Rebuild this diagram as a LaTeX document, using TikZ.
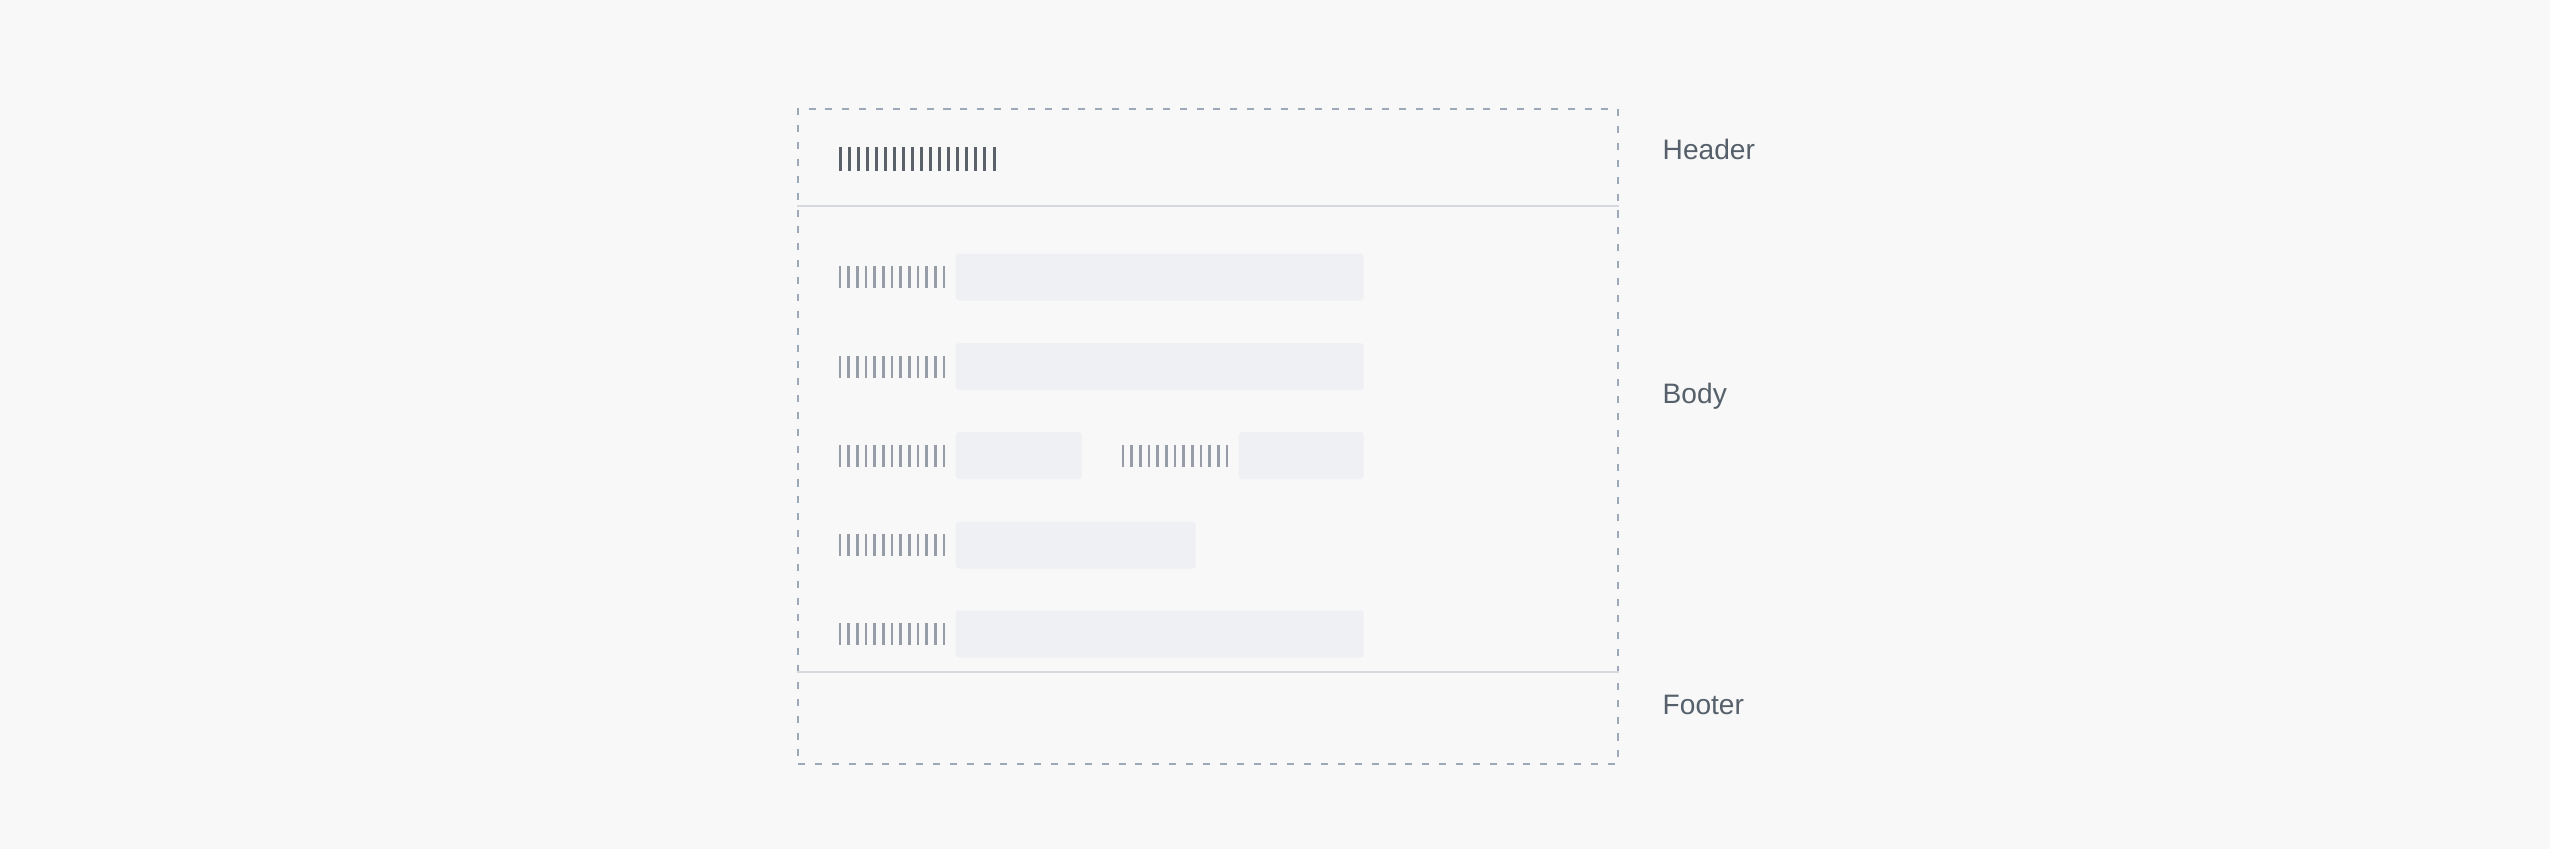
\documentclass[tikz,border=0pt]{standalone}
\usepackage{fontspec}
\setmainfont{Liberation Sans}
\usepackage{tikz}
\usetikzlibrary{positioning}
\definecolor{paper}{HTML}{F8F8F8}
\definecolor{dashgray}{HTML}{9DA9B8}
\definecolor{rulegray}{HTML}{D5D8DD}
\definecolor{fieldgray}{HTML}{EFF0F3}
\definecolor{tickdark}{HTML}{5B6169}
\definecolor{ticklight}{HTML}{979DA6}
\definecolor{labelgray}{HTML}{56606B}
\tikzset{
  frame/.style = {rectangle, draw=dashgray, line width=0.8pt, dash pattern=on 2pt off 2.8pt, minimum width=8.2cm, minimum height=6.55cm, inner sep=0pt},
  field/.style = {rectangle, fill=fieldgray, rounded corners=1pt, minimum height=0.47cm, inner sep=0pt, anchor=west},
  sep/.style = {draw=rulegray, line width=0.6pt},
  tag/.style = {text=labelgray, font=\fontsize{8}{10}\selectfont, anchor=base west, inner sep=0pt},
}
% x, y, count, step, half height, style
\newcommand{\ticks}[6]{%
  \foreach \k in {1,...,#3}{
    \draw[#6] ({#1+(\k-1)*#4}, {#2+#5}) -- ({#1+(\k-1)*#4}, {#2-#5});
  }%
}

\begin{document}
\begin{tikzpicture}
\fill[paper] (0,0) rectangle (25.5,-8.49);
\useasboundingbox (0,0) rectangle (25.5,-8.49);

% page frame
\node [frame] (page) at (12.08, -4.365) {};
\coordinate (hsep) at (0, -2.06);
\coordinate (fsep) at (0, -6.72);
\draw [sep] (page.west |- hsep) -- (page.east |- hsep);
\draw [sep] (page.west |- fsep) -- (page.east |- fsep);

% header title
\ticks{8.40}{-1.59}{18}{0.0906}{0.12}{draw=tickdark, line width=0.85pt}

% form rows
\node [field, minimum width=4.08cm] (f1) at (9.55, -2.77) {};
\node [field, minimum width=4.08cm] (f2) at (9.55, -3.665) {};
\node [field, minimum width=1.26cm] (f3) at (9.55, -4.555) {};
\node [field, minimum width=1.25cm] (f3b) at (12.38, -4.555) {};
\node [field, minimum width=2.40cm] (f4) at (9.55, -5.45) {};
\node [field, minimum width=4.08cm] (f5) at (9.55, -6.34) {};

\foreach \y in {-2.77, -3.665, -4.555, -5.45, -6.34}{
  \ticks{8.40}{\y}{13}{0.0867}{0.11}{draw=ticklight, line width=0.72pt}
}
\ticks{11.23}{-4.555}{13}{0.0867}{0.11}{draw=ticklight, line width=0.72pt}

% section labels
\node [tag] (header) at (16.62, -1.60) {Header};
\node [tag] (body) at (16.62, -4.03) {Body};
\node [tag] (footer) at (16.62, -7.14) {Footer};
\end{tikzpicture}
\end{document}
